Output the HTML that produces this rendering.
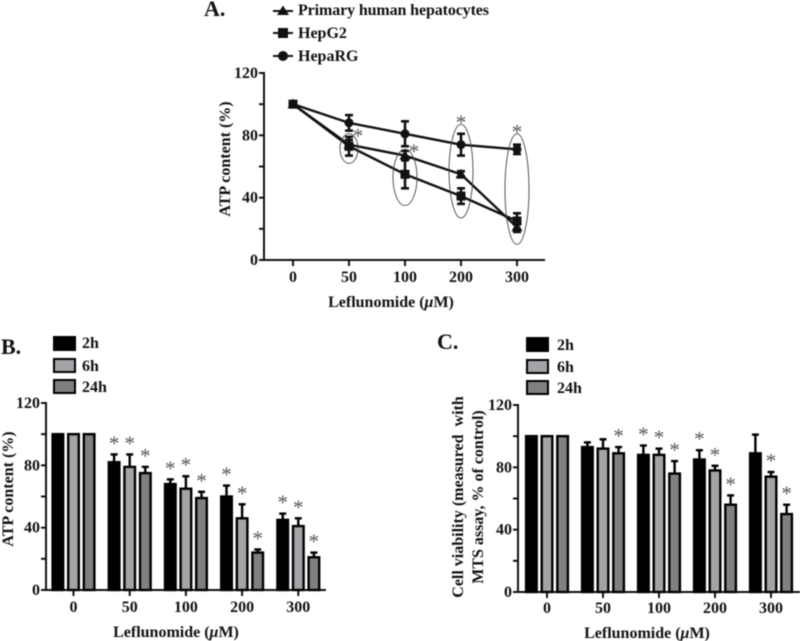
<!DOCTYPE html>
<html>
<head>
<meta charset="utf-8">
<title>Leflunomide ATP content and cell viability</title>
<style>
html,body{margin:0;padding:0;background:#fff;width:800px;height:641px;overflow:hidden}
svg{display:block;filter:blur(0.45px)}
text{font-family:"Liberation Serif",serif;font-weight:bold;fill:#111}
.tick{font-size:16px}
.title{font-size:16px}
.legend{font-size:16px}
.panel{font-size:22px}
.star{font-size:21px;font-weight:normal;fill:#555;text-anchor:middle}
</style>
</head>
<body>
<svg id="figure" xmlns="http://www.w3.org/2000/svg" width="800" height="641" viewBox="0 0 800 641">
  <rect width="800" height="641" fill="#fff"/>
  <text class="panel" x="204" y="16">A.</text>
  <text class="panel" x="1" y="354">B.</text>
  <text class="panel" x="437" y="349">C.</text>

  <g>
    <line x1="273" x2="293" y1="11" y2="11" stroke="#111" stroke-width="2"/>
    <polygon points="283,5.5 289,15 277,15" fill="#111"/>
    <text class="legend" x="298" y="15" textLength="191">Primary human hepatocytes</text>
    <line x1="273" x2="293" y1="33" y2="33" stroke="#111" stroke-width="2"/>
    <rect x="278" y="28" width="10" height="10" fill="#111"/>
    <text class="legend" x="298" y="38">HepG2</text>
    <line x1="273" x2="293" y1="56" y2="56" stroke="#111" stroke-width="2"/>
    <circle cx="283" cy="56" r="5" fill="#111"/>
    <text class="legend" x="298" y="61">HepaRG</text>
  </g>

  <g>
    <rect x="54" y="337" width="21" height="13" fill="#000" stroke="#000" stroke-width="2"/>
    <rect x="54" y="359" width="21" height="13" fill="#a4a4a8" stroke="#000" stroke-width="2"/>
    <rect x="54" y="380" width="21" height="13" fill="#808080" stroke="#000" stroke-width="2"/>
    <text class="legend" x="82" y="348">2h</text>
    <text class="legend" x="82" y="371">6h</text>
    <text class="legend" x="82" y="392">24h</text>
  </g>

  <g>
    <rect x="527" y="338" width="21" height="13" fill="#000" stroke="#000" stroke-width="2"/>
    <rect x="527" y="360" width="21" height="13" fill="#a4a4a8" stroke="#000" stroke-width="2"/>
    <rect x="527" y="381" width="21" height="13" fill="#808080" stroke="#000" stroke-width="2"/>
    <text class="legend" x="557" y="350">2h</text>
    <text class="legend" x="557" y="372">6h</text>
    <text class="legend" x="557" y="393">24h</text>
  </g>

  <text class="title" transform="translate(230,159) rotate(-90)" text-anchor="middle">ATP content (%)</text>
  <text class="title" transform="translate(13,489) rotate(-90)" text-anchor="middle">ATP content (%)</text>
  <text class="title" transform="translate(463,497) rotate(-90)" text-anchor="middle">Cell viability (measured&#160; with</text>
  <text class="title" transform="translate(483,497) rotate(-90)" text-anchor="middle">MTS assay, % of control)</text>

  <text class="title" x="391" y="307" text-anchor="middle">Leflunomide (<tspan font-style="italic">μ</tspan>M)</text>
  <text class="title" x="176" y="637" text-anchor="middle">Leflunomide (<tspan font-style="italic">μ</tspan>M)</text>
  <text class="title" x="647" y="638" text-anchor="middle">Leflunomide (<tspan font-style="italic">μ</tspan>M)</text>
</svg>
<script>
// Shared axis data
const doseLabels = ['0', '50', '100', '200', '300'];
const yTicks = [0, 20, 40, 60, 80, 100, 120];
const yTickLabels = ['0', '', '40', '', '80', '', '120'];

// Panel A: line chart values (%), +/- error
const primaryValues = [100, 74, 67, 55, 21];
const primaryErrors = [0, 3, 3, 2, 3];
const hepg2Values = [100, 73, 55, 41, 25];
const hepg2Errors = [0, 6, 9, 5, 5];
const hepargValues = [100, 88, 81, 74, 71];
const hepargErrors = [0, 5, 8, 7, 3];
// Panel A: significance ellipses, in axis values (upper, lower) per dose
const ellipseUpper = [null, 81, 71, 87, 81];
const ellipseLower = [null, 62, 35, 27, 10];

// Panel B: bars
const b2hValues = [100, 82, 68, 60, 45];
const b6hValues = [100, 79, 65, 46, 41];
const b24hValues = [100, 75, 59, 24, 21];
const b2hErrorTops = [100, 87, 71, 67, 49];
const b6hErrorTops = [100, 87, 73, 55, 46];
const b24hErrorTops = [100, 79, 63, 26, 24];
const b2hStars = [0, 1, 1, 1, 1];
const b6hStars = [0, 1, 1, 1, 1];
const b24hStars = [0, 1, 1, 1, 1];

// Panel C: bars
const c2hValues = [100, 93, 88, 85, 89];
const c6hValues = [100, 92, 88, 78, 74];
const c24hValues = [100, 89, 76, 56, 50];
const c2hErrorTops = [100, 96, 94, 91, 101];
const c6hErrorTops = [100, 98, 92, 81, 77];
const c24hErrorTops = [100, 93, 84, 62, 56];
const c2hStars = [0, 0, 1, 1, 0];
const c6hStars = [0, 0, 1, 1, 1];
const c24hStars = [0, 1, 1, 1, 1];

const svg = document.getElementById('figure');
const NS = 'http://www.w3.org/2000/svg';

function mk(tag, attrs, parent) {
  const el = document.createElementNS(NS, tag);
  for (const k in attrs) el.setAttribute(k, attrs[k]);
  (parent || svg).appendChild(el);
  return el;
}

function drawAxes(p, name) {
  const g = mk('g', {});
  
  
  mk('line', {x1: p.x0, x2: p.x0, y1: p.y(120) - 1, y2: p.y(0) + 1, stroke: '#111', 'stroke-width': 2}, g);
  mk('line', {x1: p.x0 - 5, x2: p.xEnd, y1: p.y(0), y2: p.y(0), stroke: '#111', 'stroke-width': 2}, g);
  yTicks.forEach((v, i) => {
    mk('line', {x1: p.x0 - 5, x2: p.x0, y1: p.y(v), y2: p.y(v), stroke: '#111', 'stroke-width': 2}, g);
    if (yTickLabels[i]) {
      const t = mk('text', {class: 'tick', x: p.x0 - 6, y: p.y(v) + 5, 'text-anchor': 'end'}, g);
      t.textContent = yTickLabels[i];
      
      
    }
  });
  doseLabels.forEach((lab, i) => {
    mk('line', {x1: p.x(i), x2: p.x(i), y1: p.y(0), y2: p.y(0) + 6, stroke: '#111', 'stroke-width': 2}, g);
    const t = mk('text', {class: 'tick', x: p.x(i), y: p.labelY, 'text-anchor': 'middle'}, g);
    t.textContent = lab;
    
    
  });
}

function drawStar(x, y, g) {
  const t = mk('text', {class: 'star', x: x, y: y}, g);
  t.textContent = '*';
  
  
}

// Panel A
const panelA = {
  x0: 264, xEnd: 545, labelY: 282,
  x: i => 293 + i * 56,
  y: v => 260 - v * (187 / 120)
};
drawAxes(panelA, 'panel-a');

function drawLineSeries(values, errors, marker, name) {
  const g = mk('g', {});
  
  
  const pts = values.map((v, i) => panelA.x(i) + ',' + panelA.y(v)).join(' ');
  mk('polyline', {points: pts, fill: 'none', stroke: '#111', 'stroke-width': 2.4}, g);
  values.forEach((v, i) => {
    const x = panelA.x(i), y = panelA.y(v);
    const up = panelA.y(v + errors[i]), dn = panelA.y(v - errors[i]);
    if (errors[i] > 0) {
      mk('line', {x1: x, x2: x, y1: up, y2: dn, stroke: '#111', 'stroke-width': 2.6}, g);
      mk('line', {x1: x - 4, x2: x + 4, y1: up, y2: up, stroke: '#111', 'stroke-width': 2.6}, g);
      mk('line', {x1: x - 4, x2: x + 4, y1: dn, y2: dn, stroke: '#111', 'stroke-width': 2.6}, g);
    }
    if (marker === 'circle') mk('circle', {cx: x, cy: y, r: 4.5, fill: '#111'}, g);
    if (marker === 'square') mk('rect', {x: x - 4.5, y: y - 4.5, width: 9, height: 9, fill: '#111'}, g);
    if (marker === 'triangle') mk('polygon', {points: (x) + ',' + (y - 5.5) + ' ' + (x + 5.5) + ',' + (y + 4) + ' ' + (x - 5.5) + ',' + (y + 4), fill: '#111'}, g);
  });
}
drawLineSeries(primaryValues, primaryErrors, 'triangle', 'primary-hepatocytes-series');
drawLineSeries(hepargValues, hepargErrors, 'circle', 'heparg-series');
drawLineSeries(hepg2Values, hepg2Errors, 'square', 'hepg2-series');

const ellipseGroup = mk('g', {});


ellipseUpper.forEach((u, i) => {
  if (u === null) return;
  const top = panelA.y(u), bottom = panelA.y(ellipseLower[i]);
  mk('ellipse', {cx: panelA.x(i), cy: (top + bottom) / 2, rx: i === 1 ? 9 : 12, ry: (bottom - top) / 2, fill: 'none', stroke: '#444', 'stroke-width': 0.9}, ellipseGroup);
  if (i === 1 || i === 2) drawStar(panelA.x(i) + 9, top + 9, ellipseGroup);
  else drawStar(panelA.x(i), top + 5, ellipseGroup);
});

// Bar panels
function drawBars(p, name, seriesList) {
  seriesList.forEach((s, si) => {
    const g = mk('g', {});
    
    
    s.values.forEach((v, i) => {
      const cx = p.x(i) + (si - 1) * 15.6;
      const top = p.y(v), base = p.y(0);
      const errTop = p.y(s.tops[i]);
      if (s.tops[i] > v) {
        mk('line', {x1: cx, x2: cx, y1: errTop, y2: top, stroke: '#000', 'stroke-width': 2.4}, g);
        mk('line', {x1: cx - 3.5, x2: cx + 3.5, y1: errTop, y2: errTop, stroke: '#000', 'stroke-width': 2.4}, g);
      }
      mk('rect', {x: cx - 5.3, y: top, width: 10.6, height: base - top, fill: s.fill, stroke: '#000', 'stroke-width': 2.4}, g);
      if (s.stars[i]) drawStar(cx, errTop - 4, g);
    });
  });
}

const panelB = {
  x0: 46, xEnd: 326, labelY: 612,
  x: i => 73.5 + i * 56.2,
  y: v => 590 - v * (187 / 120)
};
drawAxes(panelB, 'panel-b');
drawBars(panelB, 'panel-b', [
  {label: '2h', values: b2hValues, tops: b2hErrorTops, stars: b2hStars, fill: '#000'},
  {label: '6h', values: b6hValues, tops: b6hErrorTops, stars: b6hStars, fill: '#a4a4a8'},
  {label: '24h', values: b24hValues, tops: b24hErrorTops, stars: b24hStars, fill: '#808080'}
]);

const panelC = {
  x0: 518, xEnd: 800, labelY: 613,
  x: i => 547 + i * 56,
  y: v => 592 - v * (187 / 120)
};
drawAxes(panelC, 'panel-c');
drawBars(panelC, 'panel-c', [
  {label: '2h', values: c2hValues, tops: c2hErrorTops, stars: c2hStars, fill: '#000'},
  {label: '6h', values: c6hValues, tops: c6hErrorTops, stars: c6hStars, fill: '#a4a4a8'},
  {label: '24h', values: c24hValues, tops: c24hErrorTops, stars: c24hStars, fill: '#808080'}
]);
</script>
</body>
</html>
